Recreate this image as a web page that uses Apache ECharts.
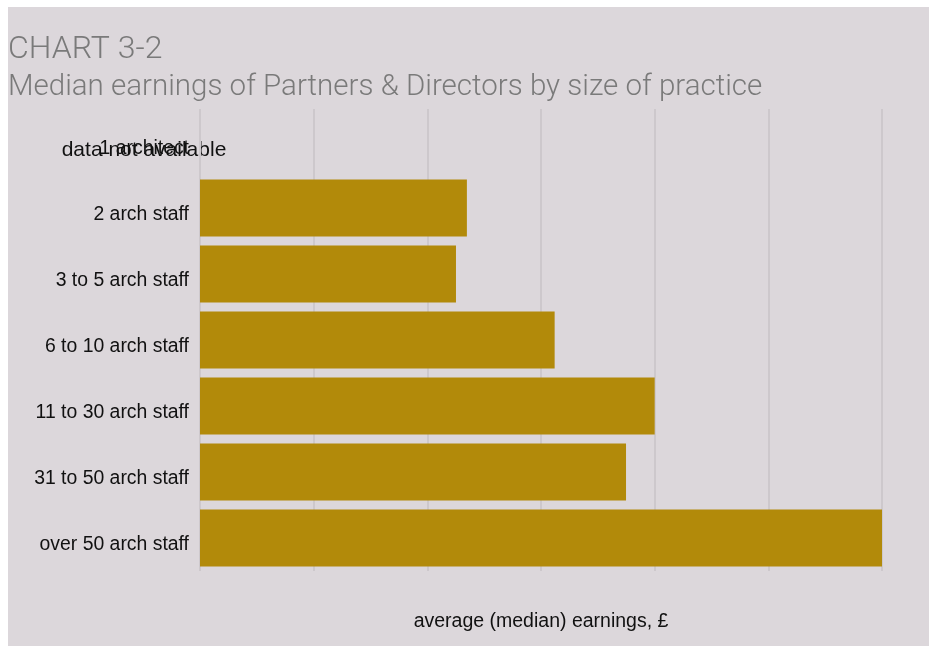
<!DOCTYPE html>
<html>
<head>
<meta charset="utf-8">
<script src="https://cdn.jsdelivr.net/npm/echarts@6/dist/echarts.min.js"></script>
<style>
  html, body { margin: 0; padding: 0; background: #ffffff; }
  #chart { position: absolute; left: 8px; top: 7px; width: 921px; height: 639px; }
</style>
</head>
<body>
<div id="chart"></div>
<script>
// categories top to bottom
var categories = ['1 architect', '2 arch staff', '3 to 5 arch staff', '6 to 10 arch staff',
  '11 to 30 arch staff', '31 to 50 arch staff', 'over 50 arch staff'];
// median earnings, £ (1 architect: no data)
var earnings = [null, 58700, 56300, 78000, 100000, 93700, 150000];
var noDataText = 'data not available';

var chart = echarts.init(document.getElementById('chart'));

var option = {
  backgroundColor: '#dcd7db',
  animation: false,
  title: [{
    text: 'CHART 3-2',
    left: 0, top: 27, padding: 0,
    textStyle: { fontFamily: 'Roboto', fontWeight: 300, fontSize: 32, color: '#7a7a7a' }
  }, {
    text: 'Median earnings of Partners & Directors by size of practice',
    left: 0, top: 66, padding: 0,
    textStyle: { fontFamily: 'Roboto', fontWeight: 300, fontSize: 29.5, color: '#7a7a7a' }
  }],
  grid: { left: 192, right: 47, top: 102, bottom: 75 },
  xAxis: {
    type: 'value',
    min: 0, max: 150000, interval: 25000,
    name: 'average (median) earnings, £',
    nameLocation: 'middle',
    nameGap: 41,
    nameTextStyle: { fontFamily: 'Liberation Sans', fontSize: 19.5, color: '#111' },
    axisLabel: { show: false },
    axisLine: { show: false },
    axisTick: { show: false },
    splitLine: { show: true, lineStyle: { color: '#cdc8cc', width: 2 } }
  },
  yAxis: {
    type: 'category',
    data: categories,
    inverse: true,
    axisLine: { show: false },
    axisTick: { show: false },
    axisLabel: {
      margin: 11,
      fontFamily: 'Liberation Sans', fontSize: 19.4, color: '#111',
      verticalAlign: 'top', lineHeight: 14
    }
  },
  series: [{
    type: 'bar',
    data: earnings,
    barCategoryGap: '14%',
    itemStyle: { color: '#b28a0a' }
  }],
  graphic: [{
    type: 'text',
    x: 136, y: 143,
    style: {
      text: noDataText, font: '21px "Liberation Sans"', fill: '#111',
      textAlign: 'center', textVerticalAlign: 'middle'
    }
  }]
};

chart.setOption(option);
</script>
</body>
</html>
